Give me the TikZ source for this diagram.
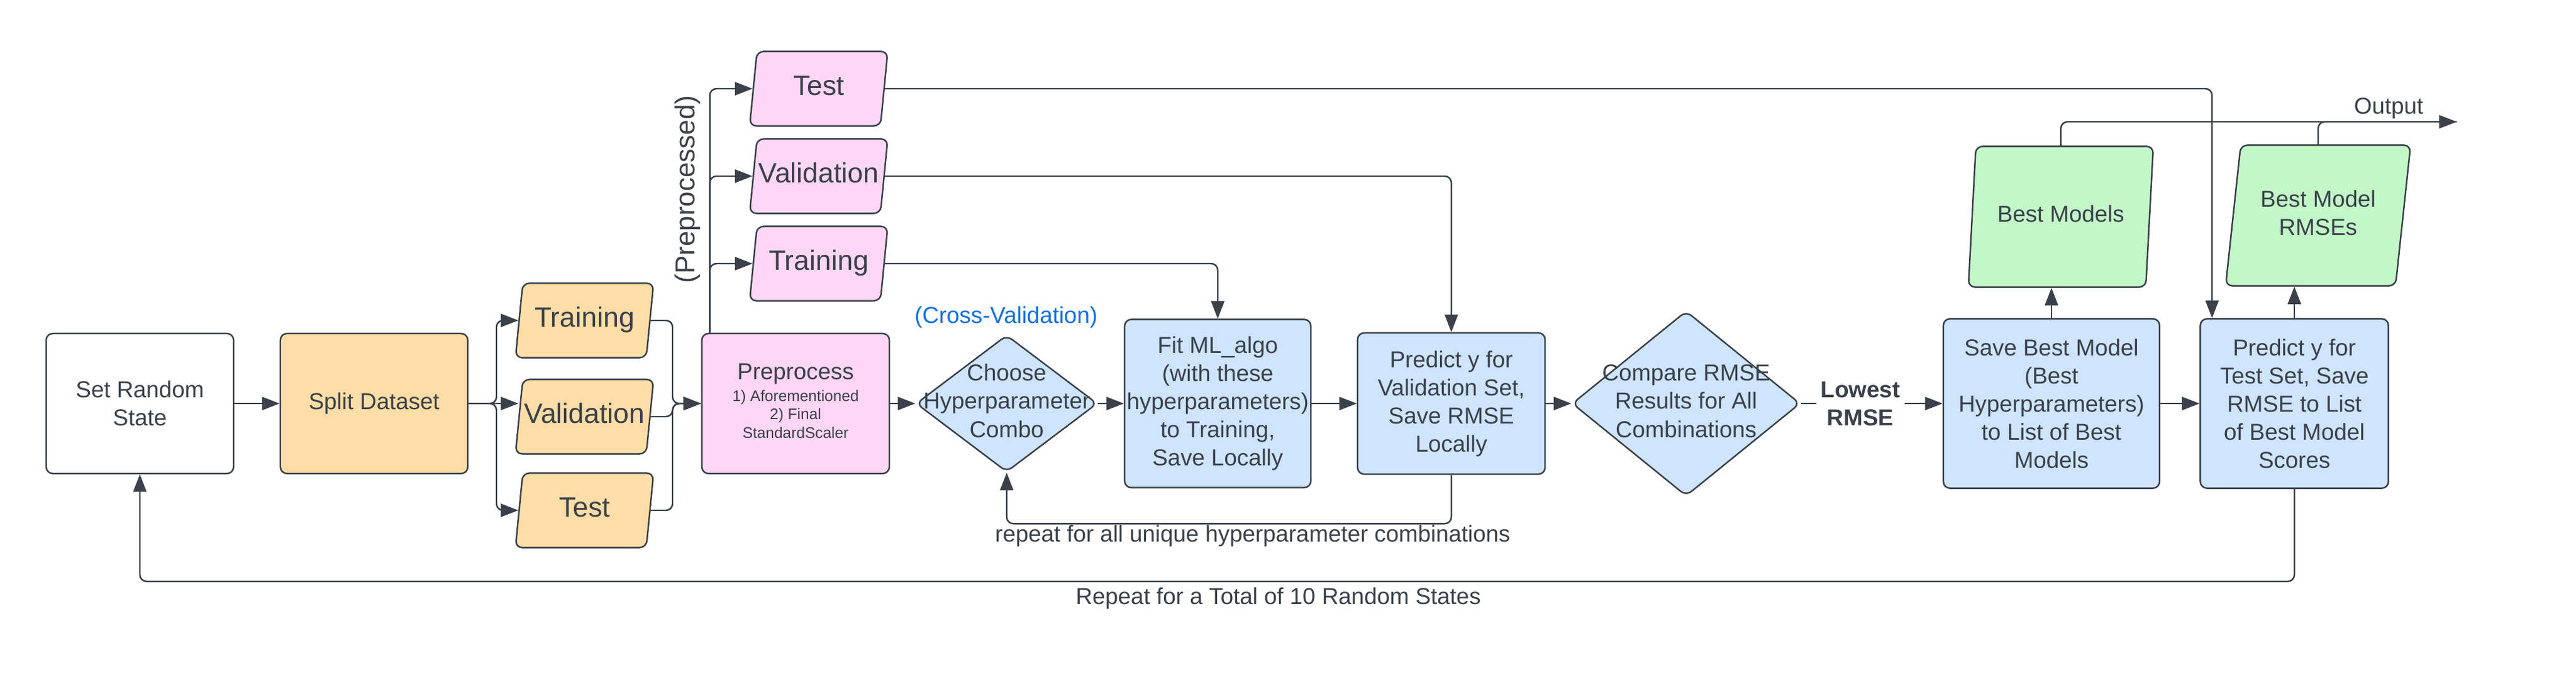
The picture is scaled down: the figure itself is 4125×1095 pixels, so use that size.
\documentclass[tikz,border=0pt]{standalone}
\usepackage{fontspec}
\setmainfont{Liberation Sans}
\usepackage{tikz}
\usetikzlibrary{calc,arrows.meta,positioning,shapes.geometric}

\definecolor{linec}{HTML}{3A414A}
\definecolor{orangef}{HTML}{FFDDA6}
\definecolor{pinkf}{HTML}{FFD6F5}
\definecolor{bluef}{HTML}{CFE4FF}
\definecolor{greenf}{HTML}{C3F7C8}
\definecolor{cvblue}{HTML}{1071E5}

\newcommand{\nowidth}[1]{\makebox[0pt]{\begin{tabular}{@{}c@{}}#1\end{tabular}}}
\newcommand{\subtxt}{\fontsize{7}{8.4}\selectfont}

\begin{document}
\begin{tikzpicture}[x=0.01cm, y=-0.01cm]
    \tikzset{
        every node/.style={font=\fontsize{10.5}{12.8}\selectfont, text=linec},
        box/.style={draw=linec, line width=0.7pt, rounded corners=3pt, align=center,
            inner sep=0pt, minimum width=3cm, minimum height=2.24cm},
        decision/.style={diamond, draw=linec, fill=bluef, line width=0.7pt,
            rounded corners=3pt, inner sep=0pt},
        datain/.style={trapezium, trapezium left angle=77.5, trapezium right angle=102.5,
            trapezium stretches body, draw=linec, line width=0.7pt, rounded corners=3pt,
            inner sep=0pt, minimum width=2.21cm, minimum height=1.19cm,
            font=\fontsize{12.7}{15}\selectfont},
        dataout/.style={datain, trapezium left angle=75, trapezium right angle=105,
            fill=greenf, minimum width=2.96cm, minimum height=2.25cm,
            font=\fontsize{10.5}{12.8}\selectfont},
        conn/.style={draw=linec, line width=0.7pt, rounded corners=3pt},
        >={Triangle[length=8pt, width=6pt]},
    }
    \useasboundingbox (0,0) rectangle (4125,1095);

    % split the data
    \node[box] (rs) at (224,646) {Set Random\\State};
    \node[box, fill=orangef] (split) at (599,646) {Split Dataset};
    \node[datain, fill=orangef] (otrain) at (936,513) {\nowidth{Training}};
    \node[datain, fill=orangef] (oval) at (936,667) {\nowidth{Validation}};
    \node[datain, fill=orangef] (otest) at (936,817) {\nowidth{Test}};

    % preprocessing
    \node[box, fill=pinkf] (prep) at (1274,646) {Preprocess\\[1pt]{\subtxt\begin{tabular}{@{}c@{}}1) Aforementioned\\2) Final\\StandardScaler\end{tabular}}};
    \node[datain, fill=pinkf] (ptest) at (1311,142) {\nowidth{Test}};
    \node[datain, fill=pinkf] (pval) at (1311,282) {\nowidth{Validation}};
    \node[datain, fill=pinkf] (ptrain) at (1311,422) {\nowidth{Training}};
    \node[rotate=90, font=\fontsize{12.5}{15}\selectfont] (pplbl) at (1101,303) {(Preprocessed)};

    % tuning
    \node[text=cvblue] (cvlbl) at (1611,508) {(Cross-Validation)};
    \node[decision, minimum width=2.9cm, minimum height=2.19cm] (choose) at (1612,646) {\nowidth{Choose\\Hyperparameter\\Combo}};
    \node[box, fill=bluef, minimum width=2.98cm, minimum height=2.69cm] (fit) at (1950,646) {Fit ML\_algo\\(with these\\hyperparameters)\\to Training,\\Save Locally};
    \node[box, fill=bluef, minimum height=2.26cm] (predv) at (2324,646) {Predict y for\\Validation Set,\\Save RMSE\\Locally};
    \node[decision, minimum width=3.65cm, minimum height=2.96cm] (compare) at (2700,646) {\nowidth{Compare RMSE\\Results for All\\Combinations}};
    \node[box, fill=bluef, minimum width=3.46cm, minimum height=2.71cm] (save) at (3285,646) {Save Best Model\\(Best\\Hyperparameters)\\to List of Best\\Models};
    \node[box, fill=bluef, minimum width=3.01cm, minimum height=2.71cm] (predt) at (3674,646) {Predict y for\\Test Set, Save\\RMSE to List\\of Best Model\\Scores};

    % outputs
    \node[dataout] (bestm) at (3300,347) {\nowidth{Best Models}};
    \node[dataout] (bestr) at (3712,345) {\nowidth{Best Model\\RMSEs}};

    \coordinate (br) at (795,646);
    \coordinate (mg) at (1077,646);
    \coordinate (pp) at ([xshift=0.14cm]prep.north west);
    \coordinate (outend) at (3934,195);

    \draw[conn, ->] (rs) -- (split);
    \draw[conn, ->] (split.east) -- (br) |- (otrain.west);
    \draw[conn, ->] (split.east) -- (oval.west |- br);
    \draw[conn, ->] (split.east) -- (br) |- (otest.west);
    \draw[conn, ->] (otrain.east) -| (mg) -- (prep.west);
    \draw[conn, ->] (oval.east) -| (mg) -- (prep.west);
    \draw[conn, ->] (otest.east) -| (mg) -- (prep.west);

    \draw[conn, ->] (pp) |- (ptrain.west);
    \draw[conn, ->] (pp) |- (pval.west);
    \draw[conn, ->] (pp) |- (ptest.west);
    \draw[conn, ->] (ptrain.east) -| (fit.north);
    \draw[conn, ->] (pval.east) -| (predv.north);
    \draw[conn, ->] (ptest.east) -| ([xshift=0.2cm]predt.north west);

    \draw[conn, ->] (prep) -- (choose);
    \draw[conn, ->] (choose) -- (fit);
    \draw[conn, ->] (fit) -- (predv);
    \draw[conn, ->] (predv) -- (compare);
    \draw[conn, ->] (compare) -- node[pos=0.42, fill=white, align=center, inner sep=2pt,
        font=\bfseries\fontsize{10.5}{12.8}\selectfont] (lowlbl) {Lowest\\RMSE} (save);
    \draw[conn, ->] (save) -- (predt);
    \draw[conn, ->] (save.north) -- (save.north |- bestm.south);
    \draw[conn, ->] (predt.north) -- (predt.north |- bestr.south);

    \draw[conn, ->] (bestm.north) |- node[pos=0.914, above, inner sep=1pt] (outlbl) {Output} (outend);
    \draw[conn] (bestr.north) |- (outend);

    % loops
    \draw[conn, ->] (predv.south) -- ++(0,78) -| (choose.south);
    \node (rptlbl) at (2006,858) {repeat for all unique hyperparameter combinations};
    \draw[conn, ->] (predt.south) -- ++(0,148) -| (rs.south);
    \node (rptall) at (2047,958) {Repeat for a Total of 10 Random States};
\end{tikzpicture}
\end{document}
